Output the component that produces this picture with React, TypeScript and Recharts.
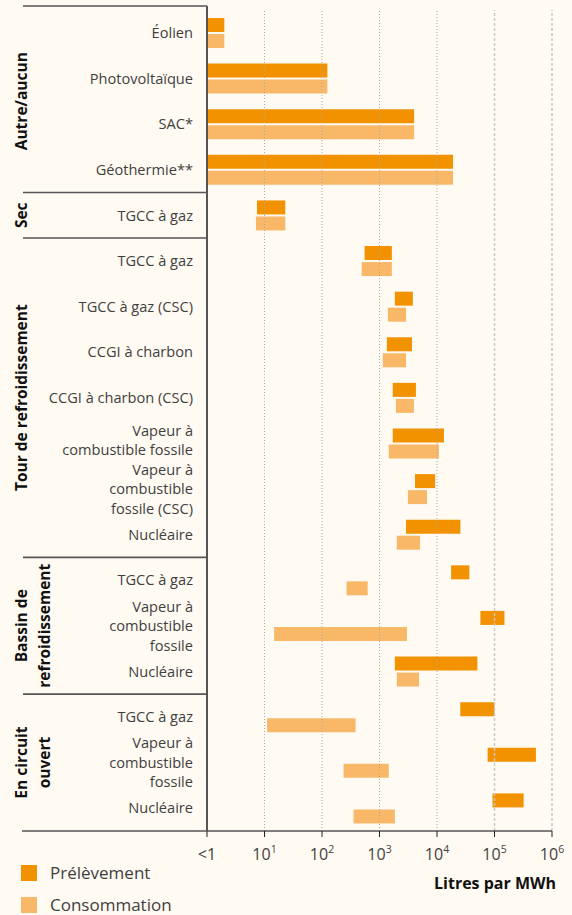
import React from 'react';
import { BarChart, Bar, XAxis, YAxis, ReferenceLine, Legend, Label } from 'recharts';

// ---------- data ----------
const rowLabels = [
  'Éolien',
  'Photovoltaïque',
  'SAC*',
  'Géothermie**',
  'TGCC à gaz',
  'TGCC à gaz',
  'TGCC à gaz (CSC)',
  'CCGI à charbon',
  'CCGI à charbon (CSC)',
  'Vapeur à\ncombustible fossile',
  'Vapeur à\ncombustible\nfossile (CSC)',
  'Nucléaire',
  'TGCC à gaz',
  'Vapeur à\ncombustible\nfossile',
  'Nucléaire',
  'TGCC à gaz',
  'Vapeur à\ncombustible\nfossile',
  'Nucléaire',
];
const groupTitles = ['Autre/aucun', 'Sec', 'Tour de refroidissement', 'Bassin de\nrefroidissement', 'En circuit\nouvert'];
const groupSizes = [4, 1, 7, 3, 3];

const prelLow = [1, 1, 1, 1, 7.4, 550, 1850, 1340, 1700, 1700, 4140, 2890, 17600, 56800, 1850, 25400, 75900, 92300];
const prelHigh = [2, 124, 4000, 19000, 23, 1640, 3800, 3670, 4300, 13200, 9270, 25500, 36500, 149000, 50400, 100000, 525000, 321000];
const consLow = [1, 1, 1, 1, 7.1, 490, 1400, 1140, 1930, 1450, 3120, 2000, 267, 14.7, 2000, 11.1, 237, 354];
const consHigh = [2, 124, 4000, 19000, 23, 1640, 2890, 2890, 3970, 10800, 6710, 5070, 623, 3000, 4860, 384, 1450, 1850];

const seriesNames = ['Prélèvement', 'Consommation'];
const xTicks = [1, 10, 100, 1000, 10000, 100000, 1000000];
const xTickBase = ['<1', '10', '10', '10', '10', '10', '10'];
const xTickExp = ['', '1', '2', '3', '4', '5', '6'];
const xAxisTitle = 'Litres par MWh';

// ---------- style ----------
const W = 572;
const H = 915;
const M = { top: 10, right: 20, bottom: 0, left: 0 };
const Y_AXIS_W = 207;
const X_AXIS_H = 84;
const BAND = (H - M.top - M.bottom - X_AXIS_H) / rowLabels.length;
const FONT = '"Open Sans", "Noto Sans", sans-serif';
const C_PREL = '#F39200';
const C_CONS = '#F8B868';
const BG = '#FFFAF2';
const LINE = '#555555';
const TXT = '#3f3f3f';
const LINE_H = 19.5;

const data = rowLabels.map((label, i) => ({
  id: 'r' + i,
  label,
  prel: [prelLow[i], prelHigh[i]],
  cons: [consLow[i], consHigh[i]],
}));

const groupStarts: number[] = [];
{
  let s = 0;
  groupSizes.forEach((n) => {
    groupStarts.push(s);
    s += n;
  });
}

const YTick = (props: any) => {
  const { y, index } = props;
  const axisX = Y_AXIS_W;
  const labelX = axisX - 14;
  const lines = rowLabels[index].split('\n');
  const n = lines.length;
  const lift = n === 2 ? 3 : 0;
  const g = groupStarts.indexOf(index);
  const els: any[] = [];
  els.push(
    <text key="t" x={labelX} y={y} textAnchor="end" fontFamily={FONT} fontSize={14.6} fill={TXT}>
      {lines.map((ln, k) => (
        <tspan key={k} x={labelX} y={y + 5.3 - lift + (k - (n - 1) / 2) * LINE_H}>
          {ln}
        </tspan>
      ))}
    </text>
  );
  if (g >= 0) {
    const top = y - BAND / 2 - (g === 0 ? 4 : 0);
    els.push(<line key="sep" x1={23} x2={axisX} y1={top} y2={top} stroke={LINE} strokeWidth={1.6} />);
    if (g === 0) {
      els.push(<line key="vt" x1={axisX} x2={axisX} y1={top} y2={y - BAND / 2} stroke={LINE} strokeWidth={2} />);
    }
    const cy = y + ((groupSizes[g] - 1) / 2) * BAND;
    const tl = groupTitles[g].split('\n');
    els.push(
      <text
        key="gt"
        transform={`translate(21, ${cy}) rotate(-90)`}
        textAnchor="middle"
        fontFamily={FONT}
        fontWeight={700}
        fontSize={15.5}
        fill="#111"
      >
        {tl.map((ln, k) => (
          <tspan key={k} x={0} y={6 + k * 23}>
            {ln}
          </tspan>
        ))}
      </text>
    );
  }
  if (index === rowLabels.length - 1) {
    const bot = y + BAND / 2;
    els.push(<line key="bot" x1={22} x2={axisX} y1={bot} y2={bot} stroke={LINE} strokeWidth={1.6} />);
  }
  return <g>{els}</g>;
};

const XTick = (props: any) => {
  const { x, y, index } = props;
  return (
    <text x={x} y={y + 21} textAnchor="middle" fontFamily={FONT} fontSize={16} fill={TXT}>
      {xTickBase[index]}
      {xTickExp[index] ? (
        <tspan dy={-7} fontSize={10.5}>
          {xTickExp[index]}
        </tspan>
      ) : null}
    </text>
  );
};

const LegendContent = () => (
  <div style={{ fontFamily: FONT, fontSize: 17, color: TXT, lineHeight: '20px' }}>
    {seriesNames.map((n, i) => (
      <div key={n} style={{ display: 'flex', alignItems: 'center', height: 32 }}>
        <span
          style={{ display: 'inline-block', width: 16, height: 16, background: i === 0 ? C_PREL : C_CONS, marginRight: 13 }}
        />
        <span>{n}</span>
      </div>
    ))}
  </div>
);

export default function App() {
  return (
    <div style={{ position: 'absolute', left: 0, top: 0, width: W, height: H, background: BG, overflow: 'hidden' }}>
      <BarChart
        width={W}
        height={H}
        data={data}
        layout="vertical"
        margin={M}
        barSize={14}
        barGap={2}
      >
        {xTicks.slice(1).map((t, i) => (
          <ReferenceLine
            key={t}
            x={t}
            stroke={i < 4 ? '#a8a8a8' : '#c8c8c8'}
            strokeDasharray={i < 4 ? '1 2' : '3 2'}
            strokeWidth={i < 4 ? 1 : 1.5}
          />
        ))}
        <XAxis
          type="number"
          scale="log"
          domain={[1, 1000000]}
          ticks={xTicks}
          allowDataOverflow
          height={X_AXIS_H}
          axisLine={{ stroke: LINE, strokeWidth: 1.6 }}
          tickLine={{ stroke: '#222' }}
          tickSize={6}
          tickMargin={2}
          tick={<XTick />}
          interval={0}
        >
          <Label
            content={(p: any) => {
              const vb = p.viewBox || {};
              return (
                <text
                  x={vb.x + vb.width + 4}
                  y={vb.y + 58}
                  textAnchor="end"
                  fontFamily={FONT}
                  fontWeight={700}
                  fontSize={16}
                  fill="#111"
                >
                  {xAxisTitle}
                </text>
              );
            }}
          />
        </XAxis>
        <YAxis
          type="category"
          dataKey="id"
          width={Y_AXIS_W}
          axisLine={{ stroke: LINE, strokeWidth: 2 }}
          tickLine={false}
          tick={<YTick />}
          interval={0}
        />
        <Bar dataKey="prel" name={seriesNames[0]} fill={C_PREL} isAnimationActive={false} />
        <Bar dataKey="cons" name={seriesNames[1]} fill={C_CONS} isAnimationActive={false} />
        <Legend
          layout="vertical"
          align="center"
          verticalAlign="middle"
          content={<LegendContent />}
          wrapperStyle={{ left: 21, top: 857, width: 200, height: 64 }}
        />
      </BarChart>
    </div>
  );
}
